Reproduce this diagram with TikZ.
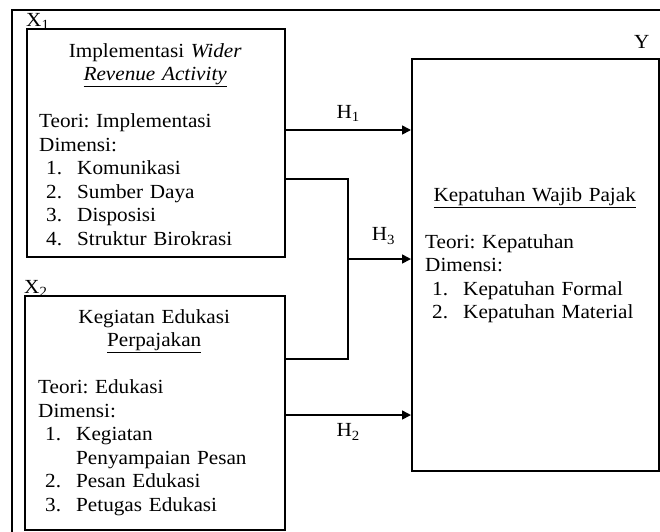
\documentclass[tikz,border=0pt]{standalone}
\usepackage{fontspec}
\setmainfont{Liberation Serif}[FakeStretch = 1.06]
\usetikzlibrary{arrows.meta}
\frenchspacing
\newcommand\numitem[2]{\hspace*{7pt}\makebox[31pt][l]{#1}#2}
\tikzset{
  varbox/.style = {draw = black, line width = 1.5pt, inner sep = 0pt, anchor = north west},
  bodytext/.style = {anchor = north west, inner sep = 0pt, align = left, font = \fontsize{20}{23.5}\selectfont},
  varlabel/.style = {inner sep = 0pt, font = \fontsize{20}{23.5}\selectfont},
  wire/.style = {draw = black, line width = 1.6pt},
  link/.style = {wire, -{Triangle[length = 9pt, width = 9pt]}}
}
\begin{document}
\begin{tikzpicture}[x = 1pt, y = -1pt]
\useasboundingbox (0,0) rectangle (660,531);
\draw[line width = 1.5pt] (12,10) rectangle (670,545);
\node[varbox, minimum width = 258pt, minimum height = 228pt] (x1) at (26,28) {};
\node[varbox, minimum width = 260pt, minimum height = 234pt] (x2) at (24,295) {};
\node[varbox, minimum width = 247pt, minimum height = 412pt] (y) at (411,58) {};
\node[varlabel, anchor = base west] (x1lab) at ([yshift = 2pt]x1.north west) {X\textsubscript{1}};
\node[varlabel, anchor = base west] (x2lab) at ([yshift = 2pt]x2.north west) {X\textsubscript{2}};
\node[varlabel, anchor = base east] (ylab) at ([xshift = -10pt, yshift = 10pt]y.north east) {Y};
\node[bodytext, text width = 232pt] (x1txt) at (39,43) {\centering Implementasi \textit{Wider}\\ \underline{\textit{Revenue Activity}}\par\raggedright\mbox{}\\ Teori: Implementasi\\ Dimensi:\\ \numitem{1.}{Komunikasi}\\ \numitem{2.}{Sumber Daya}\\ \numitem{3.}{Disposisi}\\ \numitem{4.}{Struktur Birokrasi}};
\node[bodytext, text width = 232pt] (x2txt) at (38,309) {\centering Kegiatan Edukasi\\ \underline{Perpajakan}\par\raggedright\mbox{}\\ Teori: Edukasi\\ Dimensi:\\ \numitem{1.}{Kegiatan}\\ \hspace*{38pt}Penyampaian Pesan\\ \numitem{2.}{Pesan Edukasi}\\ \numitem{3.}{Petugas Edukasi}};
\node[bodytext, text width = 219pt] (ytxt) at (425,187) {\centering\underline{Kepatuhan Wajib Pajak}\par\raggedright\mbox{}\\ Teori: Kepatuhan\\ Dimensi:\\ \numitem{1.}{Kepatuhan Formal}\\ \numitem{2.}{Kepatuhan Material}};
\coordinate (h1) at (0,130);
\coordinate (h2) at (0,415);
\coordinate (bt) at (0,179);
\coordinate (bb) at (0,359);
\coordinate (join) at (348,259);
\draw[link] (x1.east |- h1) -- node[varlabel, above = 8pt] (h1lab) {H\textsubscript{1}} (y.west |- h1);
\draw[link] (x2.east |- h2) -- node[varlabel, below = 8pt] (h2lab) {H\textsubscript{2}} (y.west |- h2);
\draw[wire] (x1.east |- bt) -| (join |- bb) -- (x2.east |- bb);
\draw[link] (join) -- node[varlabel, above = 14pt, xshift = 4pt] (h3lab) {H\textsubscript{3}} (y.west |- join);
\end{tikzpicture}
\end{document}
